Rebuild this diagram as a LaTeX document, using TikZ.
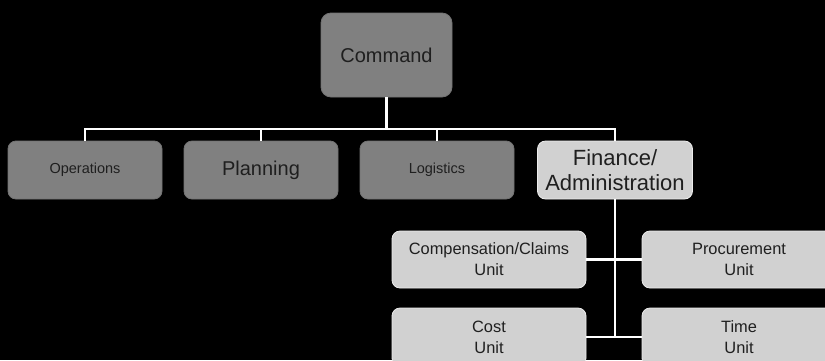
\documentclass[tikz,border=0pt]{standalone}
\usepackage{fontspec}
\setmainfont{Liberation Sans}
\begin{document}
\begin{tikzpicture}[x=1pt,y=-1pt,
  darkbox/.style={draw=gray!110, line width=0.8pt, fill=black!50, rounded corners=8pt, text=black!88, align=center, inner sep=0pt, minimum width=154pt, minimum height=58pt},
  lightbox/.style={draw=white!85!gray, line width=0.8pt, fill=black!18, rounded corners=8pt, text=black!88, align=center, inner sep=0pt, minimum width=194pt, minimum height=57pt},
  conn/.style={draw=white, line width=2.6pt}]
\clip (0,0) rectangle (825,360);
\fill[black] (0,0) rectangle (825,360);
\node[darkbox, minimum width=131pt, minimum height=84pt, rounded corners=10pt, font=\fontsize{20}{24}\selectfont] (cmd) at (386.5,55) {Command};
\node[darkbox, font=\fontsize{14.5}{17}\selectfont] (ops) at (85,170) {Operations};
\node[darkbox, font=\fontsize{20}{24}\selectfont] (plan) at (261,170) {Planning};
\node[darkbox, font=\fontsize{14.5}{17}\selectfont] (log) at (437,170) {Logistics};
\node[lightbox, minimum width=155pt, minimum height=58pt, font=\fontsize{22}{24.5}\selectfont] (fin) at (615,170) {Finance/\\Administration};
\node[lightbox, font=\fontsize{16.4}{21}\selectfont] (comp) at (489,259.5) {Compensation/Claims\\Unit};
\node[lightbox, font=\fontsize{16.4}{21}\selectfont] (proc) at (739,259.5) {Procurement\\Unit};
\node[lightbox, minimum height=58pt, font=\fontsize{16.4}{21}\selectfont] (cost) at (489,337) {Cost\\Unit};
\node[lightbox, minimum height=58pt, font=\fontsize{16.4}{21}\selectfont] (time) at (739,337) {Time\\Unit};
\coordinate (bus) at (386.5,129);
\draw[conn] (cmd.south) -- (bus);
\draw[conn] (ops.north) |- (bus) -| (fin.north);
\draw[conn] (plan.north) -- (plan.north |- bus);
\draw[conn] (log.north) -- (log.north |- bus);
\draw[conn] (fin.south) -- (fin.south |- cost.east);
\draw[conn, line width=2.2pt] (comp.east) -- (proc.west);
\draw[conn, line width=2.2pt] (cost.east) -- (time.west);
\end{tikzpicture}
\end{document}
